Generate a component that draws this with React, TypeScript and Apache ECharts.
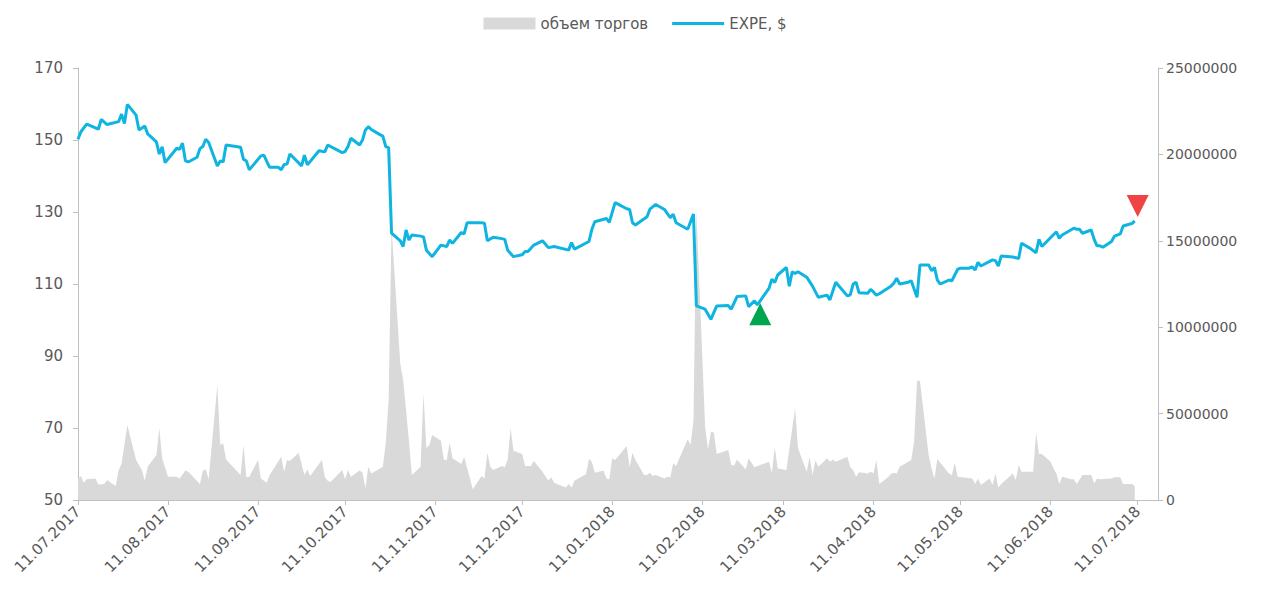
import React, { useEffect, useRef } from 'react';
import * as echarts from 'echarts';

const priceDates = [
  '2017-07-11','2017-07-12','2017-07-14','2017-07-18','2017-07-19','2017-07-21','2017-07-25','2017-07-26','2017-07-27','2017-07-28','2017-07-31',
  '2017-08-01','2017-08-03','2017-08-04','2017-08-07','2017-08-08','2017-08-09','2017-08-10','2017-08-14','2017-08-15','2017-08-16','2017-08-17','2017-08-18','2017-08-21','2017-08-22','2017-08-23','2017-08-24','2017-08-25','2017-08-28','2017-08-29','2017-08-30','2017-08-31',
  '2017-09-05','2017-09-06','2017-09-07','2017-09-08','2017-09-12','2017-09-13','2017-09-15','2017-09-18','2017-09-19','2017-09-20','2017-09-21','2017-09-22','2017-09-26','2017-09-27','2017-09-28',
  '2017-10-02','2017-10-04','2017-10-05','2017-10-10','2017-10-11','2017-10-12','2017-10-13','2017-10-16','2017-10-17','2017-10-18','2017-10-19','2017-10-20','2017-10-23','2017-10-24','2017-10-25','2017-10-26','2017-10-27','2017-10-30','2017-10-31',
  '2017-11-01','2017-11-02','2017-11-03','2017-11-06','2017-11-07','2017-11-08','2017-11-10','2017-11-13','2017-11-15','2017-11-16','2017-11-17','2017-11-20','2017-11-21','2017-11-22','2017-11-27','2017-11-28','2017-11-29',
  '2017-12-01','2017-12-04','2017-12-05','2017-12-06','2017-12-08','2017-12-11','2017-12-12','2017-12-13','2017-12-15','2017-12-18','2017-12-20','2017-12-22','2017-12-27','2017-12-28','2017-12-29',
  '2018-01-03','2018-01-04','2018-01-05','2018-01-09','2018-01-10','2018-01-12','2018-01-16','2018-01-17','2018-01-18','2018-01-19','2018-01-23','2018-01-24','2018-01-26','2018-01-29','2018-01-31',
  '2018-02-01','2018-02-02','2018-02-06','2018-02-08','2018-02-09','2018-02-12','2018-02-14','2018-02-16','2018-02-20','2018-02-21','2018-02-23','2018-02-26','2018-02-27',
  '2018-03-01','2018-03-02','2018-03-06','2018-03-07','2018-03-08','2018-03-09','2018-03-12','2018-03-13','2018-03-14','2018-03-15','2018-03-16','2018-03-19','2018-03-21','2018-03-23','2018-03-26','2018-03-27','2018-03-29',
  '2018-04-02','2018-04-03','2018-04-04','2018-04-05','2018-04-06','2018-04-09','2018-04-10','2018-04-11','2018-04-12','2018-04-13','2018-04-17','2018-04-18','2018-04-19','2018-04-20','2018-04-23','2018-04-24','2018-04-26','2018-04-27','2018-04-30',
  '2018-05-01','2018-05-02','2018-05-03','2018-05-04','2018-05-07','2018-05-08','2018-05-10','2018-05-11','2018-05-14','2018-05-15','2018-05-16','2018-05-17','2018-05-18','2018-05-22','2018-05-23','2018-05-24','2018-05-25','2018-05-29','2018-05-30','2018-05-31',
  '2018-06-01','2018-06-04','2018-06-06','2018-06-07','2018-06-08','2018-06-13','2018-06-14','2018-06-15','2018-06-19','2018-06-20','2018-06-21','2018-06-22','2018-06-25','2018-06-26','2018-06-27','2018-06-28','2018-06-29',
  '2018-07-02','2018-07-03','2018-07-05','2018-07-06','2018-07-09','2018-07-10'
];
const priceValues = [
  150.2,152.3,154.4,153.0,155.7,154.3,155.1,157.2,154.6,159.9,156.9,
  152.8,153.9,151.7,149.5,146.1,148.1,143.7,147.7,147.4,149.1,144.2,143.9,145.2,147.6,148.2,150.2,149.3,142.8,144.2,143.9,148.6,
  148.0,144.6,144.2,141.7,145.6,145.8,142.4,142.4,141.7,143.2,143.3,146.1,142.8,145.8,143.1,
  147.0,146.7,148.6,146.5,146.8,148.2,150.5,148.6,150.0,152.8,153.7,152.9,151.5,151.1,148.2,147.9,124.1,122.0,120.4,
  125.0,122.2,123.6,123.3,123.1,119.4,117.6,120.8,120.4,122.2,121.3,124.3,123.9,127.0,127.0,126.9,122.0,
  123.0,122.6,122.4,119.4,117.6,118.1,119.0,119.0,120.8,122.0,120.1,120.4,119.4,121.5,119.7,
  121.8,125.2,127.3,128.2,127.1,132.6,130.9,130.7,127.0,126.4,128.7,130.8,132.1,130.7,128.4,
  129.4,127.0,125.2,129.4,103.9,103.0,100.2,103.9,104.0,103.0,106.5,106.7,103.7,
  105.3,104.2,108.8,111.3,110.4,112.5,114.6,109.4,113.4,112.9,113.4,111.9,109.4,106.3,106.9,105.6,110.5,
  106.7,107.0,110.0,110.5,107.6,107.4,108.5,107.8,106.9,107.3,109.4,110.2,111.6,110.0,110.5,110.9,106.3,115.3,115.3,
  113.7,114.6,111.1,110.0,111.1,110.9,114.1,114.4,114.4,114.8,113.9,116.0,115.0,116.7,116.5,115.0,117.8,117.5,117.3,117.1,
  121.3,119.9,118.7,122.4,120.4,124.5,122.7,123.6,125.5,125.2,125.2,124.1,125.0,122.4,120.6,120.6,120.2,
  121.8,123.3,123.9,126.1,126.8,127.5
];

const volumeDates = [
  '2017-07-11','2017-07-12','2017-07-13','2017-07-14','2017-07-17','2017-07-18','2017-07-20','2017-07-21','2017-07-24','2017-07-25','2017-07-26','2017-07-28','2017-07-31',
  '2017-08-02','2017-08-03','2017-08-04','2017-08-07','2017-08-08','2017-08-09','2017-08-11','2017-08-14','2017-08-15','2017-08-17','2017-08-18','2017-08-22','2017-08-23','2017-08-24','2017-08-25','2017-08-28','2017-08-29','2017-08-30','2017-08-31',
  '2017-09-05','2017-09-06','2017-09-07','2017-09-08','2017-09-11','2017-09-12','2017-09-14','2017-09-15','2017-09-19','2017-09-20','2017-09-21','2017-09-22','2017-09-25','2017-09-27','2017-09-28','2017-09-29',
  '2017-10-03','2017-10-04','2017-10-05','2017-10-06','2017-10-10','2017-10-11','2017-10-12','2017-10-13','2017-10-16','2017-10-17','2017-10-18','2017-10-19','2017-10-20','2017-10-24','2017-10-25','2017-10-26','2017-10-27','2017-10-30','2017-10-31',
  '2017-11-01','2017-11-02','2017-11-03','2017-11-06','2017-11-07','2017-11-08','2017-11-09','2017-11-10','2017-11-13','2017-11-14','2017-11-15','2017-11-16','2017-11-17','2017-11-20','2017-11-21','2017-11-24','2017-11-27','2017-11-28','2017-11-29','2017-11-30',
  '2017-12-01','2017-12-04','2017-12-05','2017-12-06','2017-12-07','2017-12-08','2017-12-11','2017-12-12','2017-12-14','2017-12-15','2017-12-18','2017-12-20','2017-12-21','2017-12-22','2017-12-26','2017-12-27','2017-12-28','2017-12-29',
  '2018-01-02','2018-01-03','2018-01-04','2018-01-05','2018-01-08','2018-01-09','2018-01-10','2018-01-11','2018-01-12','2018-01-16','2018-01-17','2018-01-18','2018-01-19','2018-01-22','2018-01-23','2018-01-24','2018-01-25','2018-01-26','2018-01-29','2018-01-30','2018-01-31',
  '2018-02-01','2018-02-02','2018-02-06','2018-02-07','2018-02-08','2018-02-09','2018-02-12','2018-02-13','2018-02-14','2018-02-15','2018-02-16','2018-02-20','2018-02-21','2018-02-22','2018-02-23','2018-02-26','2018-02-27','2018-02-28',
  '2018-03-01','2018-03-06','2018-03-07','2018-03-08','2018-03-09','2018-03-12','2018-03-15','2018-03-16','2018-03-19','2018-03-20','2018-03-21','2018-03-22','2018-03-23','2018-03-26','2018-03-27','2018-03-28','2018-03-29',
  '2018-04-02','2018-04-03','2018-04-04','2018-04-05','2018-04-06','2018-04-09','2018-04-10','2018-04-11','2018-04-12','2018-04-13','2018-04-16','2018-04-17','2018-04-18','2018-04-19','2018-04-20','2018-04-23','2018-04-24','2018-04-25','2018-04-26','2018-04-27','2018-04-30',
  '2018-05-01','2018-05-02','2018-05-03','2018-05-07','2018-05-08','2018-05-09','2018-05-10','2018-05-15','2018-05-16','2018-05-17','2018-05-18','2018-05-21','2018-05-22','2018-05-23','2018-05-24','2018-05-25','2018-05-29','2018-05-30','2018-05-31',
  '2018-06-01','2018-06-04','2018-06-05','2018-06-06','2018-06-07','2018-06-08','2018-06-11','2018-06-12','2018-06-13','2018-06-14','2018-06-15','2018-06-18','2018-06-19','2018-06-20','2018-06-22','2018-06-25','2018-06-26','2018-06-27','2018-06-28',
  '2018-07-02','2018-07-03','2018-07-05','2018-07-06','2018-07-09','2018-07-10'
];
const volumeValues = [
  1250000,1390000,1000000,1200000,1250000,900000,920000,1160000,810000,1740000,2080000,4340000,2310000,
  1740000,1120000,1930000,2600000,4150000,2410000,1350000,1350000,1250000,1700000,1640000,930000,1700000,1770000,1200000,6650000,3180000,3280000,2350000,
  1450000,3180000,1310000,1350000,2310000,1250000,1000000,1450000,2500000,1640000,2310000,2260000,2740000,1450000,1770000,1390000,
  2310000,1350000,1120000,1040000,1740000,1200000,1740000,1350000,1700000,1580000,680000,1930000,1540000,1930000,3280000,5800000,15800000,7900000,6940000,
  5200000,3400000,1450000,1930000,6170000,2990000,3180000,3760000,3430000,2350000,2300000,3320000,2410000,2080000,2500000,620000,1390000,1250000,2740000,1930000,
  1740000,1970000,1900000,2350000,4150000,2850000,2660000,1970000,1970000,2260000,1640000,1120000,1310000,1000000,730000,930000,730000,1120000,
  1500000,2370000,2220000,1580000,1700000,1250000,1200000,2410000,2310000,3130000,1890000,2740000,2310000,1450000,1450000,1580000,1390000,1450000,1250000,1350000,1310000,
  2120000,1970000,3510000,3180000,4630000,16800000,4240000,2930000,3950000,3900000,2660000,2890000,2030000,2000000,2350000,1770000,2410000,2160000,
  1890000,2220000,1580000,3050000,1830000,1740000,5300000,3000000,1640000,2500000,1450000,2280000,1930000,2410000,2220000,2350000,2220000,
  2500000,1890000,1740000,1350000,1600000,1540000,1640000,1540000,2310000,930000,1310000,1500000,1580000,1540000,1930000,2220000,2310000,3380000,6900000,6900000,2600000,
  1830000,1250000,2370000,1540000,1450000,2160000,1350000,1250000,930000,1250000,870000,1250000,870000,1540000,730000,930000,1540000,1160000,2030000,
  1640000,1640000,1640000,3900000,2660000,2660000,2220000,1830000,1540000,930000,1350000,1200000,1200000,930000,1450000,1450000,960000,1250000,1200000,
  1250000,1310000,1310000,930000,930000,810000
];

const tickDates = [
  '2017-07-11','2017-08-11','2017-09-11','2017-10-11','2017-11-11','2017-12-11',
  '2018-01-11','2018-02-11','2018-03-11','2018-04-11','2018-05-11','2018-06-11','2018-07-11'
];
const axisStart = '2017-07-11';
const axisEnd = '2018-07-18';

const buySignal = { date: '2018-03-03', value: 101.6 };
const sellSignal = { date: '2018-07-11', value: 131.7 };

const ts = (s: string) => {
  const [y, m, d] = s.split('-').map(Number);
  return new Date(y, m - 1, d).getTime();
};
const pad = (n: number) => (n < 10 ? '0' : '') + n;
const fmt = (v: number) => {
  const d = new Date(v);
  return `${pad(d.getDate())}.${pad(d.getMonth() + 1)}.${d.getFullYear()}`;
};

const AXIS_COLOR = '#bfbfbf';
const LABEL_COLOR = '#595959';
const LINE_COLOR = '#0fb4e0';
const VOL_COLOR = '#d9d9d9';
const FONT = 'DejaVu Sans';

export default function App() {
  const ref = useRef<HTMLDivElement>(null);
  useEffect(() => {
    if (!ref.current) return;
    const chart = echarts.init(ref.current, undefined, { renderer: 'svg' });
    const tickTs = tickDates.map(ts);
    const option: any = {
      animation: false,
      backgroundColor: '#ffffff',
      textStyle: { fontFamily: FONT },
      legend: {
        top: 11,
        left: 'center',
        itemWidth: 52,
        itemHeight: 12,
        itemGap: 24,
        symbolKeepAspect: true,
        textStyle: { fontSize: 15, color: LABEL_COLOR, fontFamily: FONT },
        data: [
          { name: 'объем торгов', icon: 'rect', itemStyle: { color: VOL_COLOR } },
          { name: 'EXPE, $', icon: 'path://M0,0L52,0L52,3L0,3Z', itemStyle: { color: LINE_COLOR } }
        ]
      },
      grid: { left: 78, right: 112, top: 68, bottom: 91 },
      xAxis: {
        type: 'value',
        min: ts(axisStart),
        max: ts(axisEnd),
        axisLine: { show: true, onZero: false, lineStyle: { color: AXIS_COLOR, width: 1 } },
        axisTick: { show: true, customValues: tickTs, length: 5, lineStyle: { color: AXIS_COLOR } },
        axisLabel: {
          customValues: tickTs,
          formatter: (v: number) => fmt(v),
          rotate: 45,
          color: LABEL_COLOR,
          fontSize: 15,
          fontFamily: FONT,
          margin: 9
        },
        splitLine: { show: false }
      },
      yAxis: [
        {
          type: 'value',
          min: 50,
          max: 170,
          interval: 20,
          axisLine: { show: true, lineStyle: { color: AXIS_COLOR } },
          axisTick: { show: true, length: 5, lineStyle: { color: AXIS_COLOR } },
          axisLabel: { color: LABEL_COLOR, fontSize: 15, fontFamily: FONT, margin: 15 },
          splitLine: { show: false }
        },
        {
          type: 'value',
          min: 0,
          max: 25000000,
          interval: 5000000,
          position: 'right',
          axisLine: { show: true, lineStyle: { color: AXIS_COLOR } },
          axisTick: { show: true, length: 5, lineStyle: { color: AXIS_COLOR } },
          axisLabel: { color: LABEL_COLOR, fontSize: 14, fontFamily: FONT, margin: 8, formatter: (v: number) => String(v) },
          splitLine: { show: false }
        }
      ],
      series: [
        {
          name: 'объем торгов',
          type: 'line',
          yAxisIndex: 1,
          data: volumeDates.map((d, i) => [ts(d), volumeValues[i]]),
          symbol: 'none',
          lineStyle: { width: 0, color: VOL_COLOR },
          itemStyle: { color: VOL_COLOR },
          areaStyle: { color: VOL_COLOR, opacity: 1 },
          z: 1
        },
        {
          name: 'EXPE, $',
          type: 'line',
          yAxisIndex: 0,
          data: priceDates.map((d, i) => [ts(d), priceValues[i]]),
          symbol: 'none',
          lineStyle: { width: 3, color: LINE_COLOR },
          itemStyle: { color: LINE_COLOR },
          z: 3
        },
        {
          name: 'buy',
          type: 'scatter',
          yAxisIndex: 0,
          data: [[ts(buySignal.date), buySignal.value]],
          symbol: 'triangle',
          symbolSize: [22, 22],
          itemStyle: { color: '#00a54f', opacity: 1 },
          z: 5
        },
        {
          name: 'sell',
          type: 'scatter',
          yAxisIndex: 0,
          data: [[ts(sellSignal.date), sellSignal.value]],
          symbol: 'triangle',
          symbolRotate: 180,
          symbolSize: [22, 22],
          itemStyle: { color: '#f04444', opacity: 1 },
          z: 5
        }
      ]
    };
    chart.setOption(option);
    return () => chart.dispose();
  }, []);
  return (
    <div
      ref={ref}
      style={{ position: 'fixed', left: 0, top: 0, width: 1270, height: 591, background: '#fff' }}
    />
  );
}
